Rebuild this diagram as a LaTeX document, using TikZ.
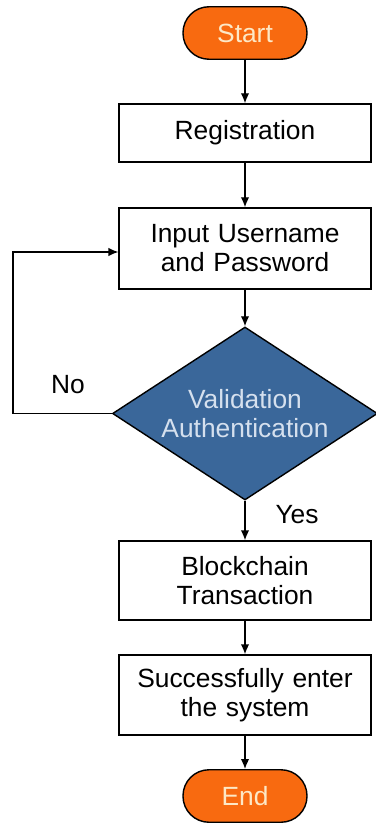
\documentclass[tikz,border=0pt]{standalone}
\usepackage{fontspec}
\setmainfont{Liberation Sans}
\usetikzlibrary{arrows.meta,shapes.geometric}
\definecolor{termorange}{HTML}{F86A10}
\definecolor{termtext}{HTML}{FDE8C6}
\definecolor{decblue}{HTML}{3A679A}
\definecolor{dectext}{HTML}{D5E0EE}
\begin{document}
\begin{tikzpicture}[font=\fontsize{15}{16.5}\selectfont, line width=0.8pt,
term/.style = {draw, fill=termorange, text=termtext, rounded corners=0.52cm,
    minimum width=2.48cm, minimum height=1.05cm},
proc/.style = {draw, fill=white, align=center, minimum width=5cm, text width=4.8cm},
dec/.style = {draw, diamond, fill=decblue, text=dectext, align=center,
    inner sep=0pt, aspect=1.54, minimum width=5.3cm, minimum height=3.46cm},
flow/.style = {-{Latex[length=2mm,width=1.7mm]}}]
\useasboundingbox (0,0) rectangle (7.5,-16.46);
\node[term] (start) at (4.9,-0.66) {Start};
\node[proc, minimum height=1.16cm] (reg) at (4.9,-2.66) {Registration};
\node[proc, minimum height=1.62cm] (input) at (4.9,-4.97) {Input Username\\and Password};
\node[dec] (valid) at (4.9,-8.27) {Validation\\Authentication};
\node[proc, minimum height=1.58cm] (chain) at (4.9,-11.61) {Blockchain\\Transaction};
\node[proc, minimum height=1.6cm] (enter) at (4.9,-13.9) {Successfully enter\\the system};
\node[term] (end) at (4.9,-15.92) {End};
% connectors
\draw[flow] (start) -- (reg);
\draw[flow] (reg) -- (input);
\draw[flow] (input) -- (valid);
\draw[flow] (valid) -- (chain);
\draw[flow] (chain) -- (enter);
\draw[flow] (enter) -- (end);
\coordinate (back) at (0.26,-8.27);
\draw[flow] (valid.west) -- (back) |- ([yshift=-0.07cm]input.west);
\node (no) at (1.36,-7.7) {No};
\node (yes) at (5.94,-10.3) {Yes};
\end{tikzpicture}
\end{document}
